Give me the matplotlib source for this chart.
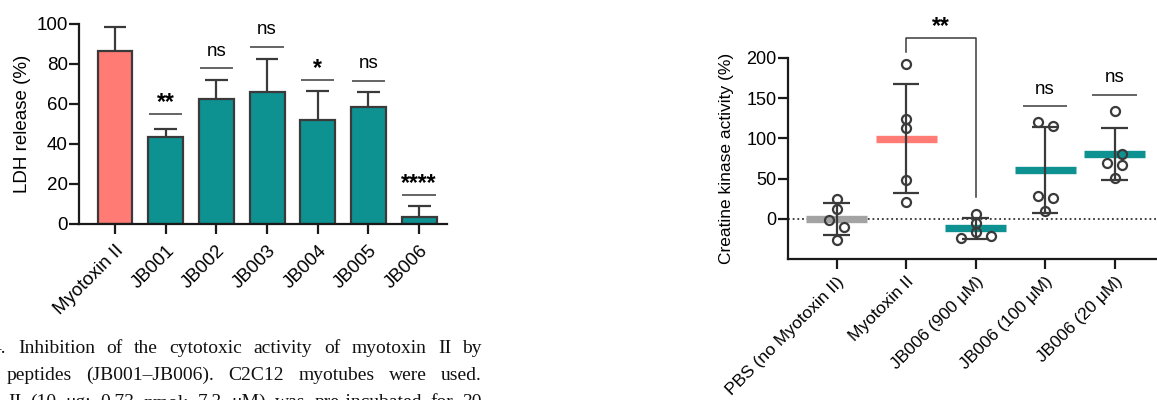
import numpy as np
import matplotlib
matplotlib.use("Agg")
import matplotlib.pyplot as plt

# LDH release panel (mean and SD)
ldh_labels = ["Myotoxin II", "JB001", "JB002", "JB003", "JB004", "JB005", "JB006"]
ldh_mean = [86.3, 43.7, 62.5, 66.0, 51.8, 58.5, 3.3]
ldh_sd = [12.0, 4.0, 9.3, 16.3, 14.9, 7.7, 5.9]
ldh_sig = ["", "**", "ns", "ns", "*", "ns", "****"]
ldh_sig_y = [None, 55, 78, 88.5, 72, 71.5, 14.5]

# Creatine kinase panel (individual points, 5 per group)
ck_labels = ["PBS (no Myotoxin II)", "Myotoxin II", "JB006 (900 μM)",
             "JB006 (100 μM)", "JB006 (20 μM)"]
ck_points = [
    [25.0, 12.5, -1.5, -10.0, -26.5],
    [192.5, 123.5, 112.5, 48.0, 21.5],
    [6.5, -4.5, -16.5, -24.0, -20.5],
    [120.5, 115.5, 28.5, 26.5, 10.0],
    [134.5, 80.0, 70.0, 67.0, 50.5],
]
# horizontal scatter slot of each point (as in the picture)
ck_slot = [
    [0, 0, -1, 1, 0],
    [0, 0, 0, 0, 0],
    [0, 0, 0, -2, 2],
    [-1, 1, -1, 1, 0],
    [0, 1, -1, 1, 0],
]
ck_sig = ["", "", "", "ns", "ns"]
ck_bracket = (1, 2, "**", 224, 207.5, 27.7)

SALMON = "#FF7B73"
TEAL = "#0E9191"
GRAY = "#A3A3A3"
EDGE = "#3a3a3a"
AXC = "#1a1a1a"

W, H = 1157, 400
plt.rcParams["font.family"] = ["Liberation Sans", "DejaVu Sans"]

fig = plt.figure(figsize=(W / 100, H / 100), dpi=100)


def style_axes(ax, fs, xpad=6):
    for s in ["top", "right"]:
        ax.spines[s].set_visible(False)
    for s in ["left", "bottom"]:
        ax.spines[s].set_linewidth(1.6)
        ax.spines[s].set_color(AXC)
    ax.tick_params(axis="both", length=7, width=1.6, color=AXC, labelsize=fs)
    ax.tick_params(axis="y", pad=1)
    ax.tick_params(axis="x", pad=xpad)


# ---- left: LDH release bars ----
ax1 = fig.add_axes([79 / W, 176 / H, 368 / W, 200 / H])
x1 = np.arange(len(ldh_labels))
colors1 = [SALMON] + [TEAL] * (len(ldh_labels) - 1)
ax1.bar(x1, ldh_mean, width=0.69, color=colors1, edgecolor=EDGE, linewidth=1.6, zorder=2)
tops = np.array(ldh_mean) + np.array(ldh_sd)
ax1.vlines(x1, ldh_mean, tops, color=EDGE, lw=1.6, zorder=1)
ax1.hlines(tops, x1 - 0.225, x1 + 0.225, color=EDGE, lw=1.6, zorder=1)
for i, (s, y) in enumerate(zip(ldh_sig, ldh_sig_y)):
    if not s:
        continue
    ax1.hlines(y, i - 0.33, i + 0.33, color=EDGE, lw=1.1, clip_on=False)
    if s == "ns":
        ax1.annotate(s, (i, y), xytext=(0, 9), textcoords="offset points",
                     ha="center", va="baseline", fontsize=13.5, annotation_clip=False)
    else:
        ax1.annotate(s, (i, y), xytext=(0, 3.5), textcoords="offset points",
                     ha="center", va="baseline", fontsize=16.5, fontweight="bold",
                     annotation_clip=False)
ax1.set_xlim(-0.71, 6.55)
ax1.set_ylim(0, 100)
ax1.set_yticks(range(0, 101, 20))
ax1.set_xticks(x1)
ax1.set_xticklabels(ldh_labels, rotation=45, ha="right", va="top", rotation_mode="anchor")
style_axes(ax1, 13.5)
ax1.set_ylabel("LDH release (%)", fontsize=13.5, labelpad=4)

# ---- right: creatine kinase scatter ----
ax2 = fig.add_axes([787.7 / W, 140.7 / H, 369.3 / W, 201.6 / H])
ck_colors = [GRAY, SALMON, TEAL, TEAL, TEAL]
ax2.axhline(0, color="#333333", lw=1.3, ls=(0, (1, 1.6)), zorder=0)
for i, pts in enumerate(ck_points):
    pts = np.array(pts)
    m, sd = pts.mean(), pts.std(ddof=1)
    ax2.hlines(m, i - 0.44, i + 0.44, color=ck_colors[i], lw=5.3, zorder=1,
               capstyle="butt")
    ax2.vlines(i, m - sd, m + sd, color=EDGE, lw=1.6, zorder=2)
    ax2.hlines([m - sd, m + sd], i - 0.19, i + 0.19, color=EDGE, lw=1.6, zorder=2)
    xs = i + 0.107 * np.array(ck_slot[i])
    ax2.plot(xs, pts, "o", ms=6.5, mfc="none", mec=EDGE, mew=1.6, zorder=3)
    if ck_sig[i]:
        y = pts.max() + 19.5
        ax2.hlines(y, i - 0.32, i + 0.32, color=EDGE, lw=1.1, clip_on=False)
        ax2.annotate(ck_sig[i], (i, y), xytext=(0, 9), textcoords="offset points",
                     ha="center", va="baseline", fontsize=13.5, annotation_clip=False)

a, b, s, top, ya, yb = ck_bracket
ax2.plot([a, a, b, b], [ya, top, top, yb], color=EDGE, lw=1.1, clip_on=False)
ax2.annotate(s, ((a + b) / 2, top), xytext=(0, 3.5), textcoords="offset points",
             ha="center", va="baseline", fontsize=16.5, fontweight="bold",
             annotation_clip=False)
ax2.set_xlim(-0.705, 4.61)
ax2.set_ylim(-50, 200)
ax2.set_yticks(range(0, 201, 50))
ax2.set_xticks(range(len(ck_labels)))
ax2.set_xticklabels(ck_labels, rotation=45, ha="right", va="top", rotation_mode="anchor")
style_axes(ax2, 13, xpad=3.5)
ax2.tick_params(axis="x", labelsize=12.5)
ax2.set_ylabel("Creatine kinase activity (%)", fontsize=12.5, labelpad=9)


# ---- caption fragment (justified lines, cut at the left edge) ----
def justify_line(words, x0, x1, baseline, **kw):
    r = fig.canvas.get_renderer()
    texts = [fig.text(0, 1 - baseline / H, w, va="baseline", **kw) for w in words]
    widths = [t.get_window_extent(renderer=r).width for t in texts]
    gap = (x1 - x0 - sum(widths)) / (len(words) - 1)
    x = x0
    for t, w in zip(texts, widths):
        t.set_x(x / W)
        x += w + gap


cap = dict(family="Liberation Serif", fontsize=14, color="#111111")
justify_line("4. Inhibition of the cytotoxic activity of myotoxin II by".split(),
             -8, 482, 353, **cap)
justify_line("peptides (JB001–JB006). C2C12 myotubes were used.".split(),
             7, 482, 380, **cap)
justify_line("II (10 μg; 0.73 nmol; 7.3 μM) was pre-incubated for 30".split(),
             8, 482, 407, **cap)

fig.savefig("out.png", dpi=100)
